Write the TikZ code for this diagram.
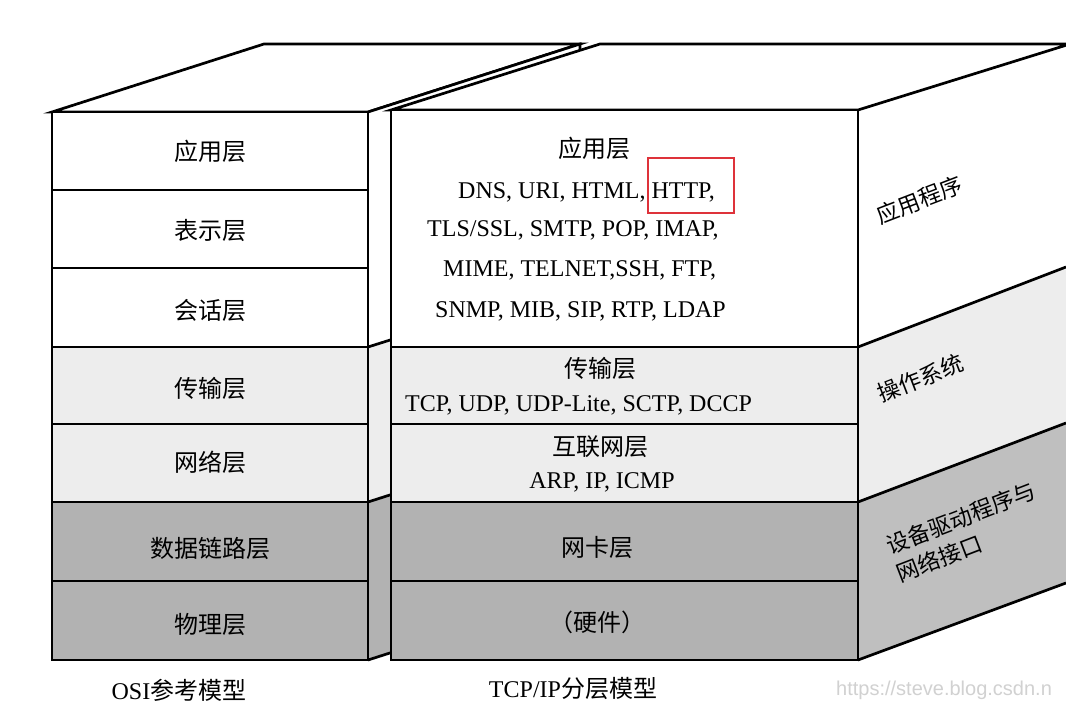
\documentclass[tikz,border=0pt]{standalone}
\usepackage{fontspec}
\setmainfont{Liberation Serif}
\newfontfamily\cjk{Noto Sans CJK SC}
\newfontfamily\wmfont{Liberation Sans}
\definecolor{lightband}{gray}{0.93}
\definecolor{darkband}{gray}{0.70}
\definecolor{sidedark}{gray}{0.75}
\definecolor{markred}{RGB}{222,50,58}
\definecolor{wmgray}{gray}{0.82}
\begin{document}
\begin{tikzpicture}[x=1pt,y=-1pt,line join=miter,
  edge/.style={draw=black,line width=2.7pt},
  lat/.style={font=\fontsize{24}{28}\selectfont,inner sep=0pt},
  cj/.style={font=\fontsize{24}{28}\selectfont\cjk,inner sep=0pt},
  sidecj/.style={font=\fontsize{22.5}{30}\selectfont\cjk,inner sep=0pt,rotate=21,align=left},
  hlbox/.style={draw=markred,line width=2.5pt,inner sep=0pt}]
\useasboundingbox (0,0) rectangle (1066,709);
\clip (0,0) rectangle (1066,709);
\fill[white] (0,0) rectangle (1066,709);

% ---------- OSI block ----------
% top face
\filldraw[fill=white,edge] (52,112) -- (264,44) -- (580,44) -- (368,112) -- cycle;
% side face (mostly hidden)
\fill[white] (368,112) -- (580,44) -- (580,280) -- (368,347) -- cycle;
\fill[lightband] (368,347) -- (580,280) -- (580,434) -- (368,502) -- cycle;
\fill[darkband] (368,502) -- (580,434) -- (580,592) -- (368,660) -- cycle;
\draw[edge] (368,112) -- (580,44) -- (580,592) -- (368,660);
\draw[edge] (368,347) -- (580,280);
\draw[edge] (368,502) -- (580,434);
% front face
\fill[white] (52,112) rectangle (368,347);
\fill[lightband] (52,347) rectangle (368,502);
\fill[darkband] (52,502) rectangle (368,660);
\foreach \yy in {190,268,347,424,502,581} \draw[edge] (52,\yy) -- (368,\yy);
\draw[edge] (52,112) rectangle (368,660);

% ---------- TCP/IP block ----------
% side face
\fill[white] (858,110) -- (1066,44) -- (1066,267) -- (858,347) -- cycle;
\fill[lightband] (858,347) -- (1066,267) -- (1066,423) -- (858,502) -- cycle;
\fill[sidedark] (858,502) -- (1066,423) -- (1066,583) -- (858,660) -- cycle;
\draw[edge] (858,347) -- (1066,267);
\draw[edge] (858,502) -- (1066,423);
\draw[edge] (858,660) -- (1066,583);
% top face
\filldraw[fill=white,edge] (391,110) -- (600,44) -- (1070,44) -- (858,110) -- cycle;
% front face
\fill[white] (391,110) rectangle (858,347);
\fill[lightband] (391,347) rectangle (858,502);
\fill[darkband] (391,502) rectangle (858,660);
\foreach \yy in {347,424,502,581} \draw[edge] (391,\yy) -- (858,\yy);
\draw[edge] (391,110) rectangle (858,660);

% ---------- OSI labels ----------
\node[cj] (osi7) at (210,151) {应用层};
\node[cj] (osi6) at (210,230) {表示层};
\node[cj] (osi5) at (210,310) {会话层};
\node[cj] (osi4) at (210,388) {传输层};
\node[cj] (osi3) at (210,462) {网络层};
\node[cj] (osi2) at (210,548) {数据链路层};
\node[cj] (osi1) at (210,624) {物理层};

% ---------- TCP/IP labels ----------
\node[cj] (tapp) at (594,148) {应用层};
\node[lat,anchor=base west] (tapp1) at (458,198) {DNS, URI, HTML, HTTP,};
\node[lat,anchor=base west] (tapp2) at (427,236) {TLS/SSL, SMTP, POP, IMAP,};
\node[lat,anchor=base west] (tapp3) at (443,276) {MIME, TELNET,SSH, FTP,};
\node[lat,anchor=base west] (tapp4) at (435,317) {SNMP, MIB, SIP, RTP, LDAP};
\node[hlbox,minimum width=86pt,minimum height=55pt] (hl) at (691,185.5) {};
\node[cj] (ttra) at (600,368) {传输层};
\node[lat,anchor=base west] (ttra1) at (405,411) {TCP, UDP, UDP-Lite, SCTP, DCCP};
\node[cj] (tnet) at (600,447) {互联网层};
\node[lat,anchor=base] (tnet1) at (602,488) {ARP, IP, ICMP};
\node[cj] (tlink) at (597,547) {网卡层};
\node[cj] (thw) at (597,622) {（硬件）};

% ---------- side labels ----------
\node[sidecj] (sapp) at (919,200) {应用程序};
\node[sidecj] (sos) at (920,378) {操作系统};
\node[sidecj] (sdrv) at (966,532) {设备驱动程序与\\网络接口};

% ---------- captions ----------
\node[lat] (caposi) at (179,690) {OSI{\cjk 参考模型}};
\node[lat] (captcp) at (573,688) {TCP/IP{\cjk 分层模型}};
\node[inner sep=0pt,anchor=west,text=wmgray,font=\fontsize{20}{24}\selectfont\wmfont] (wm) at (836,690) {https://steve.blog.csdn.n};
\end{tikzpicture}
\end{document}
